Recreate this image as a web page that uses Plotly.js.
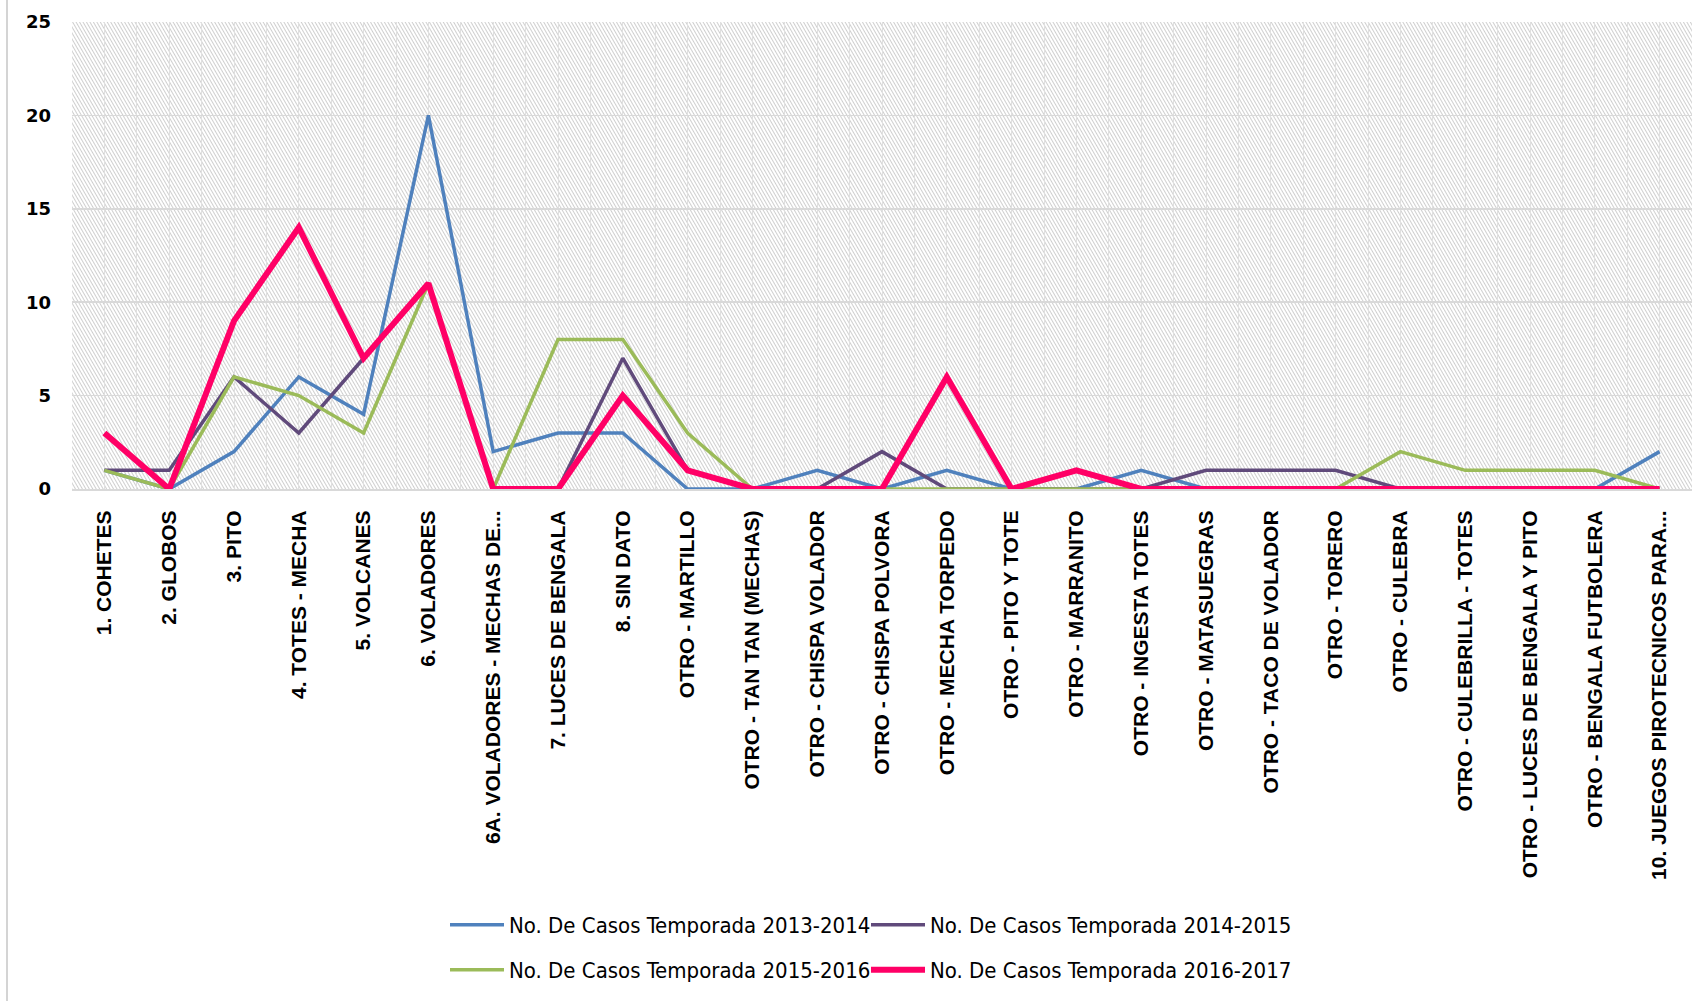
<!DOCTYPE html>
<html>
<head>
<meta charset="utf-8">
<script src="https://cdn.plot.ly/plotly-3.0.1.min.js"></script>
<style>
html,body{margin:0;padding:0;background:#ffffff;}
#chart{width:1701px;height:1001px;}
</style>
</head>
<body>
<div id="chart"></div>
<script>
const categories = [
  "1. COHETES", "2. GLOBOS", "3. PITO", "4. TOTES - MECHA", "5. VOLCANES",
  "6. VOLADORES", "6A. VOLADORES - MECHAS DE...", "7. LUCES DE BENGALA", "8. SIN DATO",
  "OTRO - MARTILLO", "OTRO - TAN TAN (MECHAS)", "OTRO - CHISPA VOLADOR",
  "OTRO - CHISPA POLVORA", "OTRO - MECHA TORPEDO", "OTRO - PITO Y TOTE",
  "OTRO - MARRANITO", "OTRO - INGESTA TOTES", "OTRO - MATASUEGRAS",
  "OTRO - TACO DE VOLADOR", "OTRO - TORERO", "OTRO - CULEBRA",
  "OTRO - CULEBRILLA - TOTES", "OTRO - LUCES DE BENGALA Y PITO",
  "OTRO - BENGALA FUTBOLERA", "10. JUEGOS PIROTECNICOS PARA..."
];
const casos2013_2014 = [1, 0, 2, 6, 4, 20, 2, 3, 3, 0, 0, 1, 0, 1, 0, 0, 1, 0, 0, 0, 0, 0, 0, 0, 2];
const casos2014_2015 = [1, 1, 6, 3, 7, 11, 0, 0, 7, 1, 0, 0, 2, 0, 0, 0, 0, 1, 1, 1, 0, 0, 0, 0, 0];
const casos2015_2016 = [1, 0, 6, 5, 3, 11, 0, 8, 8, 3, 0, 0, 0, 0, 0, 0, 0, 0, 0, 0, 2, 1, 1, 1, 0];
const casos2016_2017 = [3, 0, 9, 14, 7, 11, 0, 0, 5, 1, 0, 0, 0, 6, 0, 1, 0, 0, 0, 0, 0, 0, 0, 0, 0];
const seriesNames = [
  "No. De Casos Temporada 2013-2014",
  "No. De Casos Temporada 2014-2015",
  "No. De Casos Temporada 2015-2016",
  "No. De Casos Temporada 2016-2017"
];
const yTicks = [0, 5, 10, 15, 20, 25];

const idx = categories.map((c, i) => i);
const seriesValues = [casos2013_2014, casos2014_2015, casos2015_2016, casos2016_2017];
const colors = ["#4F81BD", "#604A7B", "#9BBB59", "#FF0066"];
const widths = [3.5, 3.5, 3.5, 6];
const legendIds = ["legend", "legend2", "legend3", "legend4"];

const traces = seriesValues.map((vals, k) => ({
  type: "scatter",
  mode: "lines",
  x: idx,
  y: vals,
  name: seriesNames[k],
  line: {color: colors[k], width: widths[k]},
  legend: legendIds[k],
  hoverinfo: "skip"
}));

const hatchSvg = "<svg xmlns='http://www.w3.org/2000/svg' width='1620' height='467'>" +
  "<defs><pattern id='h' width='3' height='3' patternUnits='userSpaceOnUse' patternTransform='rotate(-30)'>" +
  "<rect width='3' height='3' fill='#ffffff'/>" +
  "<line x1='0.5' y1='0' x2='0.5' y2='3' stroke='#cfcfcf' stroke-width='1'/>" +
  "</pattern></defs><rect width='1620' height='467' fill='url(#h)'/></svg>";

const legendFont = {family: "DejaVu Sans Condensed, DejaVu Sans, sans-serif", size: 22, color: "#000000"};
function legendAt(xpx, ypx) {
  return {
    orientation: "h",
    xref: "container", yref: "container",
    x: xpx / 1701, y: 1 - ypx / 1001,
    xanchor: "left", yanchor: "middle",
    font: legendFont,
    itemwidth: 54,
    bgcolor: "rgba(0,0,0,0)",
    borderwidth: 0
  };
}

const layout = {
  width: 1701,
  height: 1001,
  margin: {l: 72, r: 9, t: 22, b: 512},
  paper_bgcolor: "#ffffff",
  plot_bgcolor: "#ffffff",
  showlegend: true,
  xaxis: {
    range: [-0.5, 24.5],
    tickmode: "array",
    tickvals: idx,
    ticktext: categories,
    tickangle: -90,
    ticks: "",
    showgrid: true,
    gridcolor: "#e0e0e0",
    gridwidth: 1,
    minor: {tickmode: "linear", tick0: 0.5, dtick: 1, showgrid: true, gridcolor: "#e0e0e0", gridwidth: 1, ticks: ""},
    zeroline: false,
    showline: true,
    linecolor: "#d9d9d9",
    linewidth: 2,
    automargin: false,
    ticklabelstandoff: 11,
    tickfont: {family: "Liberation Sans, Arial, sans-serif", size: 21, color: "#000000", weight: "bold"},
    fixedrange: true
  },
  yaxis: {
    range: [0, 25],
    tickmode: "array",
    tickvals: yTicks,
    ticktext: yTicks.map(String),
    ticks: "",
    showgrid: true,
    gridcolor: "#d9d9d9",
    gridwidth: 1.5,
    zeroline: false,
    showline: false,
    automargin: false,
    ticklabelstandoff: 20,
    tickfont: {family: "DejaVu Sans, sans-serif", size: 18, color: "#000000", weight: "bold"},
    fixedrange: true
  },
  legend: legendAt(445, 925),
  legend2: legendAt(866, 925),
  legend3: legendAt(445, 970),
  legend4: legendAt(866, 970),
  images: [{
    source: "data:image/svg+xml;charset=utf-8," + encodeURIComponent(hatchSvg),
    xref: "paper", yref: "paper",
    x: 0, y: 1, sizex: 1, sizey: 1,
    xanchor: "left", yanchor: "top",
    sizing: "stretch",
    layer: "below"
  }],
  shapes: [{
    type: "line", xref: "paper", yref: "paper",
    x0: -65 / 1620, x1: -65 / 1620, y0: -512 / 467, y1: 1 + 22 / 467,
    line: {color: "#d4d4d4", width: 2}
  }]
};

Plotly.newPlot("chart", traces, layout, {displayModeBar: false, staticPlot: true});
</script>
</body>
</html>
